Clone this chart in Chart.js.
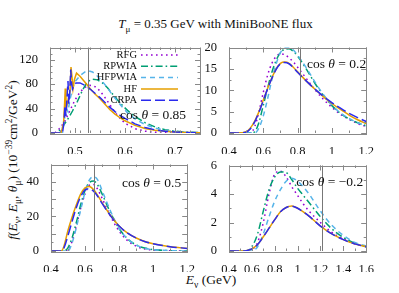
<!DOCTYPE html>
<html>
<head>
<meta charset="utf-8">
<script src="https://cdn.jsdelivr.net/npm/chart.js@4.4.0/dist/chart.umd.min.js"></script>
<style>
  body { margin: 0; background: #fff; }
  #wrap { position: relative; width: 399px; height: 293px; overflow: hidden; font-family: "Liberation Serif", "DejaVu Serif", serif; color: #111; }
  .pane { position: absolute; }
  .txt { position: absolute; white-space: nowrap; font-size: 13.5px; line-height: 1; }
  sub, sup { font-size: 70%; line-height: 0; }
</style>
</head>
<body>
<div id="wrap">
  <div class="txt" id="title" style="left:0;width:399px;top:17px;text-align:center;padding-left:16px;font-size:13px">
    <i>T</i><sub>μ</sub> = 0.35 GeV with MiniBooNE flux</div>
  <div class="txt" id="ylab" style="left:13px;top:160px;transform:translate(-50%,-50%) rotate(-90deg);">
    <i>f</i>(<i>E</i><sub>ν</sub>, <i>E</i><sub>μ</sub>, <i>θ</i><sub>μ</sub>) (10<sup>−39</sup>cm<sup>2</sup>/GeV<sup>2</sup>)</div>
  <div class="txt" id="xlab" style="left:211px;top:280px;transform:translate(-50%,-50%);">
    <i>E</i><sub>ν</sub> (GeV)</div>
  <div class="pane" style="left:20px;top:36px;width:185px;height:118px"><canvas id="c1" width="185" height="118"></canvas></div>
  <div class="pane" style="left:205px;top:36px;width:172px;height:118px"><canvas id="c2" width="172" height="118"></canvas></div>
  <div class="pane" style="left:20px;top:153px;width:178px;height:119px"><canvas id="c3" width="178" height="119"></canvas></div>
  <div class="pane" style="left:205px;top:154px;width:172px;height:118px"><canvas id="c4" width="172" height="118"></canvas></div>
</div>
<script>
const models = ['RFG', 'RPWIA', 'HFPWIA', 'HF', 'CRPA'];
const colors = ['#9400d3', '#009e73', '#56b4e9', '#e69f00', '#2a2aee'];
const dashes = [[1.6, 3.4], [7, 3, 1.6, 3], [5, 4], [], [10, 4]];

// cos(theta) = 0.85
const rfg085 = [[0.45,0],[0.46,0],[0.47,8],[0.48,20],[0.49,37],[0.5,54],[0.51,67],[0.52,75],[0.53,78],[0.54,76],[0.55,69],[0.56,58],[0.57,46],[0.58,34],[0.59,24],[0.6,16],[0.62,7],[0.64,3],[0.66,1.2],[0.68,0.5],[0.7,0.2],[0.75,0]];
const rpwia085 = [[0.45,0],[0.465,0],[0.475,10],[0.485,22],[0.495,36],[0.505,52],[0.515,70],[0.525,84],[0.535,88],[0.545,87],[0.555,82],[0.565,74],[0.575,64],[0.585,54],[0.595,45],[0.605,37],[0.62,27],[0.64,17],[0.66,10],[0.68,5.5],[0.7,3],[0.72,1.5],[0.75,0.5]];
const hfpwia085 = [[0.45,0],[0.475,0],[0.48,28],[0.483,40],[0.486,35],[0.49,55],[0.495,72],[0.5,84],[0.51,94],[0.52,100],[0.527,102],[0.535,100],[0.545,93],[0.555,84],[0.565,74],[0.575,62],[0.585,52],[0.595,42],[0.605,33],[0.62,23],[0.64,14],[0.66,8],[0.68,4.5],[0.7,2.5],[0.72,1.2],[0.75,0.4]];
const hf085 = [[0.45,0],[0.472,0],[0.477,15],[0.479,45],[0.4805,73],[0.482,38],[0.485,50],[0.488,60],[0.49,68],[0.492,108],[0.494,92],[0.496,72],[0.499,88],[0.503,98],[0.51,93],[0.52,83],[0.53,73],[0.54,64],[0.55,56],[0.56,47],[0.57,38],[0.58,31],[0.59,25],[0.6,20],[0.62,12.5],[0.64,7.5],[0.66,4.5],[0.68,2.7],[0.7,1.6],[0.72,1],[0.75,0.4]];
const crpa085 = [[0.45,0],[0.475,0],[0.478,18],[0.48,45],[0.482,28],[0.484,58],[0.486,85],[0.4875,48],[0.4895,66],[0.4915,104],[0.493,82],[0.495,72],[0.498,78],[0.502,82],[0.51,82],[0.52,78],[0.53,72],[0.54,65],[0.55,58],[0.56,50],[0.57,42],[0.58,35],[0.59,29],[0.6,24],[0.62,15],[0.64,9],[0.66,5.2],[0.68,3],[0.7,1.8],[0.72,1],[0.75,0.4]];

// cos(theta) = 0.2
const e02 = [0.4,0.45,0.5,0.525,0.55,0.575,0.6,0.625,0.65,0.675,0.7,0.725,0.75,0.775,0.8,0.85,0.9,0.95,1.0,1.05,1.1,1.15,1.2];
const rfg02 = [0,0,0,0,1.5,5,9.5,13.5,16.3,17.9,18.5,18.3,17.6,16.6,15.4,12.8,10.2,7.9,6.0,4.4,3.2,2.2,1.5];
const rpwia02 = [0,0,0,0,0.3,2.5,6.5,10.5,14.2,17.0,18.8,19.6,19.7,19.1,18.0,15.0,11.7,8.8,6.4,4.6,3.3,2.4,1.7];
const hfpwia02 = [0,0,0,0,0,1.2,4,8,12.5,16.2,18.8,19.9,20.0,19.4,18.2,15.3,12.0,9.0,6.5,4.7,3.4,2.4,1.7];
const hf02 = [0,0,0.3,1.2,2.8,5.0,7.7,10.4,12.9,15.0,16.3,16.6,16.3,15.4,14.3,12.2,10.3,8.5,6.9,5.5,4.2,3.1,2.2];
const crpa02 = [0,0,0.2,1.0,2.6,4.9,7.6,10.3,12.8,14.9,16.2,16.5,16.2,15.3,14.2,12.2,10.3,8.6,7.1,5.8,4.6,3.6,2.7];

// cos(theta) = 0.5
const e05 = [0.4,0.45,0.46,0.475,0.5,0.525,0.55,0.575,0.6,0.625,0.65,0.675,0.7,0.75,0.8,0.85,0.9,0.95,1.0,1.1,1.2];
const rfg05 = [0,0,0,0,0.5,6,15,25,33,38,38.5,35.5,30.5,20,11.5,6,2.8,1.2,0.5,0.1,0];
const rpwia05 = [0,0,0,0,2,8,17,27,35,39.5,40.5,38,33,22,13,7,3.5,1.7,0.8,0.2,0];
const hfpwia05 = [0,0,0,0,0,5,14,24,34,41,43,41,35,23,13,7,3.5,1.6,0.8,0.2,0];
const hf05 = [0,0,0,2.5,12,20,27,33,36.5,37.3,35.5,32,28,20.5,14.5,10.3,7.5,5.5,4.2,2.5,1.5];
const crpa05 = [0,0,0,1.5,9,17.5,25.5,31.5,35.3,36,34.5,31.5,27.5,20.3,14.4,10.3,7.5,5.5,4.2,2.5,1.5];

// cos(theta) = -0.2
const em02 = [0.4,0.5,0.55,0.6,0.65,0.7,0.75,0.8,0.85,0.9,0.95,1.0,1.05,1.1,1.2,1.3,1.4,1.5,1.6];
const rfgm02 = [0,0,0,0.1,0.6,2,4,5.4,5.6,5.2,4.5,3.9,3.3,2.8,2.0,1.3,0.85,0.5,0.3];
const rpwiam02 = [0,0,0,0.3,1.2,2.8,4.3,5.2,5.55,5.5,5.0,4.4,3.9,3.4,2.4,1.55,0.95,0.55,0.3];
const hfpwiam02 = [0,0,0,0,0.3,1.2,2.4,3.5,4.3,4.9,5.1,4.9,4.5,4.0,2.8,1.8,1.1,0.6,0.35];
const hfm02 = [0,0,0.02,0.15,0.45,1.0,1.6,2.2,2.75,3.05,3.15,3.0,2.75,2.45,1.75,1.2,0.8,0.5,0.3];
const crpam02 = [0,0,0.02,0.15,0.45,1.0,1.6,2.2,2.75,3.05,3.15,3.0,2.75,2.45,1.75,1.2,0.8,0.5,0.3];

const xTicks1 = [0.5, 0.6, 0.7], yTicks1 = [0, 40, 80, 120];
const xTicks2 = [0.4, 0.6, 0.8, 1, 1.2], yTicks2 = [0, 5, 10, 15, 20];
const xTicks3 = [0.4, 0.6, 0.8, 1, 1.2], yTicks3 = [0, 10, 20, 30, 40, 50];
const xTicks4 = [0.4, 0.6, 0.8, 1, 1.2, 1.4, 1.6], yTicks4 = [0, 2, 4, 6];
const cutLines = [0.525, 0.815, 0.655, 1.21];
const cosLabels = ['0.85', '0.2', '0.5', '\u22120.2'];

const FONT = '"Liberation Serif", "DejaVu Serif", serif';
const pairs = arr => arr.map(p => ({ x: p[0], y: p[1] }));
const zip = (xs, ys) => xs.map((x, i) => ({ x, y: ys[i] }));

function drawCos(ctx, x, y, val) {
  const sz = '13.5px ';
  ctx.textBaseline = 'middle';
  ctx.textAlign = 'left';
  const parts = [['cos ', ''], ['\u03b8', 'italic '], [' = ' + val, '']];
  let w = 0;
  parts.forEach(p => { ctx.font = p[1] + sz + FONT; w += ctx.measureText(p[0]).width; });
  let cx = x - w;
  parts.forEach(p => {
    ctx.font = p[1] + sz + FONT;
    ctx.fillText(p[0], cx, y);
    cx += ctx.measureText(p[0]).width;
  });
}

const framePlugin = {
  id: 'frame',
  afterDatasetsDraw(chart, args, o) {
    const { ctx, chartArea: a, scales: { x, y } } = chart;
    ctx.save();
    ctx.strokeStyle = '#777';
    ctx.lineWidth = 1;
    // cut line
    const vx = Math.round(x.getPixelForValue(o.cut)) + 0.5;
    ctx.beginPath(); ctx.moveTo(vx, a.top); ctx.lineTo(vx, a.bottom); ctx.stroke();
    // border
    ctx.strokeStyle = '#888';
    ctx.strokeRect(Math.round(a.left) + 0.5, Math.round(a.top) + 0.5, Math.round(a.width), Math.round(a.height));
    // inward ticks
    const tick = (vals, len, axis) => {
      ctx.beginPath();
      vals.forEach(v => {
        if (axis === 'x') {
          const px = Math.round(x.getPixelForValue(v)) + 0.5;
          ctx.moveTo(px, a.bottom); ctx.lineTo(px, a.bottom - len);
          ctx.moveTo(px, a.top); ctx.lineTo(px, a.top + len);
        } else {
          const py = Math.round(y.getPixelForValue(v)) + 0.5;
          ctx.moveTo(a.left, py); ctx.lineTo(a.left + len, py);
          ctx.moveTo(a.right, py); ctx.lineTo(a.right - len, py);
        }
      });
      ctx.stroke();
    };
    const minor = (min, max, step) => {
      const out = [];
      for (let v = min; v <= max + 1e-9; v += step) out.push(v);
      return out;
    };
    tick(minor(x.min, x.max, o.xMinor), 2.5, 'x');
    tick(minor(y.min, y.max, o.yMinor), 2.5, 'y');
    tick(o.xt, 5, 'x');
    tick(o.yt, 5, 'y');
    ctx.fillStyle = '#111';
    drawCos(ctx, a.right - o.cosDx, a.top + o.cosDy, o.cosText);
    if (o.legend) {
      ctx.font = '10.5px ' + FONT;
      ctx.textAlign = 'right';
      ctx.textBaseline = 'middle';
      models.forEach((m, i) => {
        const ly = a.top + 7.5 + i * 11.3;
        ctx.fillStyle = '#111';
        ctx.fillText(m, a.left + 87, ly);
        ctx.strokeStyle = colors[i];
        ctx.lineWidth = 1.5;
        ctx.setLineDash(dashes[i]);
        ctx.beginPath(); ctx.moveTo(a.left + 91, ly); ctx.lineTo(a.left + 128, ly); ctx.stroke();
      });
      ctx.setLineDash([]);
    }
    ctx.restore();
  }
};

function makePanel(id, series, xr, yr, xt, yt, box, extra) {
  const c = document.getElementById(id);
  new Chart(c, {
    type: 'line',
    data: {
      datasets: series.map((d, i) => ({
        label: models[i],
        data: d,
        borderColor: colors[i],
        borderWidth: 1.5,
        borderDash: dashes[i],
        pointRadius: 0,
        tension: 0,
        cubicInterpolationMode: extra.smooth ? 'monotone' : 'default'
      })).reverse()
    },
    options: {
      responsive: false,
      animation: false,
      events: [],
      layout: { padding: { top: box.top, right: box.right, left: 0, bottom: 0 } },
      scales: {
        x: {
          type: 'linear', min: xr[0], max: xr[1],
          grid: { display: false }, border: { display: false },
          ticks: { font: { family: FONT, size: 12.5 }, color: '#111', padding: 3, maxRotation: 0,
                   callback: v => String(+v.toFixed(2)) },
          afterBuildTicks: s => { s.ticks = xt.map(v => ({ value: v })); },
          afterFit: s => { s.height = box.bottom; }
        },
        y: {
          type: 'linear', min: yr[0], max: yr[1],
          grid: { display: false }, border: { display: false },
          ticks: { font: { family: FONT, size: 12.5 }, color: '#111', padding: 4,
                   callback: v => String(+v.toFixed(2)) },
          afterBuildTicks: s => { s.ticks = yt.map(v => ({ value: v })); },
          afterFit: s => { s.width = box.left; }
        }
      },
      plugins: {
        legend: { display: false },
        tooltip: { enabled: false },
        frame: Object.assign({ xt, yt }, extra)
      }
    },
    plugins: [framePlugin]
  });
}

makePanel('c1', [pairs(rfg085), pairs(rpwia085), pairs(hfpwia085), pairs(hf085), pairs(crpa085)],
  [0.45, 0.75], [0, 140], xTicks1, yTicks1,
  { left: 30, top: 6, right: 5, bottom: 21 },
  { cut: cutLines[0], xMinor: 0.02, yMinor: 10, cosText: cosLabels[0], cosDx: 14, cosDy: 68, legend: true, smooth: false });
makePanel('c2', [zip(e02, rfg02), zip(e02, rpwia02), zip(e02, hfpwia02), zip(e02, hf02), zip(e02, crpa02)],
  [0.4, 1.2], [0, 20], xTicks2, yTicks2,
  { left: 24, top: 6, right: 2, bottom: 21 },
  { cut: cutLines[1], xMinor: 0.1, yMinor: 2.5, cosText: cosLabels[1], cosDx: 0, cosDy: 17, smooth: true });
makePanel('c3', [zip(e05, rfg05), zip(e05, rpwia05), zip(e05, hfpwia05), zip(e05, hf05), zip(e05, crpa05)],
  [0.4, 1.2], [0, 50], xTicks3, yTicks3,
  { left: 31, top: 6, right: 7, bottom: 21 },
  { cut: cutLines[2], xMinor: 0.1, yMinor: 5, cosText: cosLabels[2], cosDx: 6, cosDy: 19, smooth: true });
makePanel('c4', [zip(em02, rfgm02), zip(em02, rpwiam02), zip(em02, hfpwiam02), zip(em02, hfm02), zip(em02, crpam02)],
  [0.4, 1.6], [0, 6], xTicks4, yTicks4,
  { left: 24, top: 6, right: 2, bottom: 21 },
  { cut: cutLines[3], xMinor: 0.1, yMinor: 1, cosText: cosLabels[3], cosDx: 3, cosDy: 17, smooth: true });
</script>
</body>
</html>
